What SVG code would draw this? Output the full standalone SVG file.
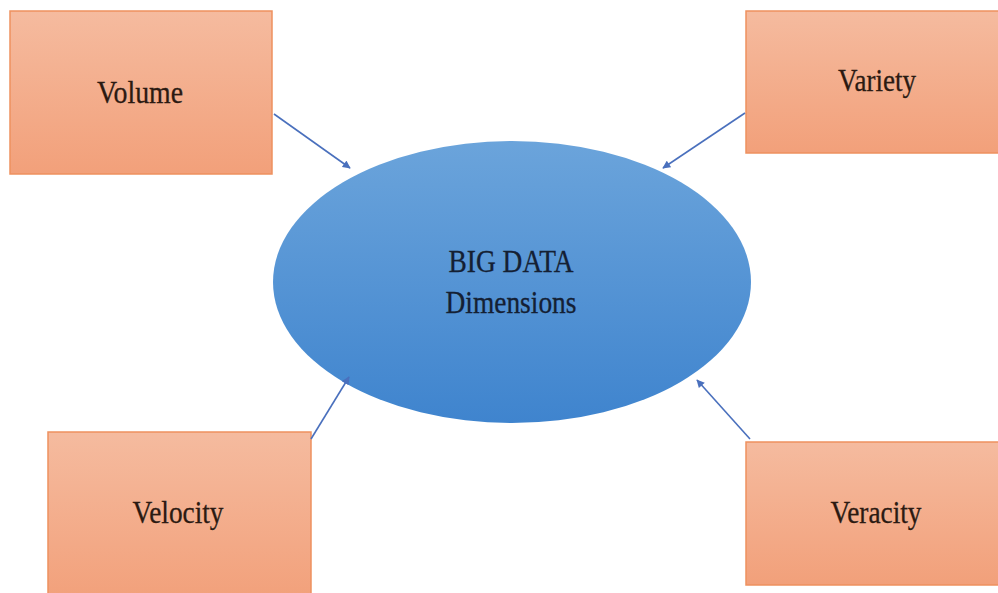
<svg xmlns="http://www.w3.org/2000/svg" width="998" height="593" viewBox="0 0 998 593">
<defs>
<linearGradient id="boxg" x1="0" y1="0" x2="0" y2="1">
<stop offset="0" stop-color="#f5bb9f"/>
<stop offset="1" stop-color="#f2a07a"/>
</linearGradient>
<linearGradient id="ellg" x1="0" y1="0" x2="0" y2="1">
<stop offset="0" stop-color="#6ba4db"/>
<stop offset="1" stop-color="#3f84ce"/>
</linearGradient>
<marker id="arr" viewBox="0 0 10 10" refX="9" refY="5" markerWidth="9" markerHeight="8" markerUnits="userSpaceOnUse" orient="auto">
<path d="M0,0 L10,5 L0,10 z" fill="#4a70bd"/>
</marker>
</defs>
<style>
.box{fill:url(#boxg);stroke:#ee915f;stroke-width:1.5}
.lbl{font-family:"Liberation Serif","Times New Roman",serif;font-size:32px;fill:#2b1a12;text-anchor:middle;stroke:#2b1a12;stroke-width:0.3}
.clbl{font-family:"Liberation Serif","Times New Roman",serif;font-size:32px;fill:#142033;text-anchor:middle;stroke:#142033;stroke-width:0.3}
.conn{stroke:#4a70bd;stroke-width:1.6;fill:none;marker-end:url(#arr)}
</style>
<rect width="998" height="593" fill="#ffffff"/>
<g id="center">
<ellipse cx="512" cy="282" rx="239" ry="141" fill="url(#ellg)"/>
<text class="clbl" x="511" y="272" textLength="125" lengthAdjust="spacingAndGlyphs">BIG DATA</text>
<text class="clbl" x="511" y="313" textLength="131" lengthAdjust="spacingAndGlyphs">Dimensions</text>
</g>
<g id="volume">
<rect class="box" x="10" y="11" width="262" height="163"/>
<text class="lbl" x="140" y="103" textLength="86" lengthAdjust="spacingAndGlyphs">Volume</text>
</g>
<g id="variety">
<rect class="box" x="746" y="11" width="260" height="142"/>
<text class="lbl" x="877" y="91" textLength="78" lengthAdjust="spacingAndGlyphs">Variety</text>
</g>
<g id="velocity">
<rect class="box" x="48" y="432" width="263" height="170"/>
<text class="lbl" x="178" y="523" textLength="91" lengthAdjust="spacingAndGlyphs">Velocity</text>
</g>
<g id="veracity">
<rect class="box" x="746" y="442" width="260" height="143"/>
<text class="lbl" x="876" y="523" textLength="91" lengthAdjust="spacingAndGlyphs">Veracity</text>
</g>
<g id="connectors">
<line class="conn" x1="274" y1="114" x2="350" y2="168"/>
<line class="conn" x1="745" y1="113" x2="663" y2="168"/>
<line class="conn" x1="311" y1="439" x2="349" y2="377"/>
<line class="conn" x1="750" y1="439" x2="697" y2="380"/>
</g>
</svg>
